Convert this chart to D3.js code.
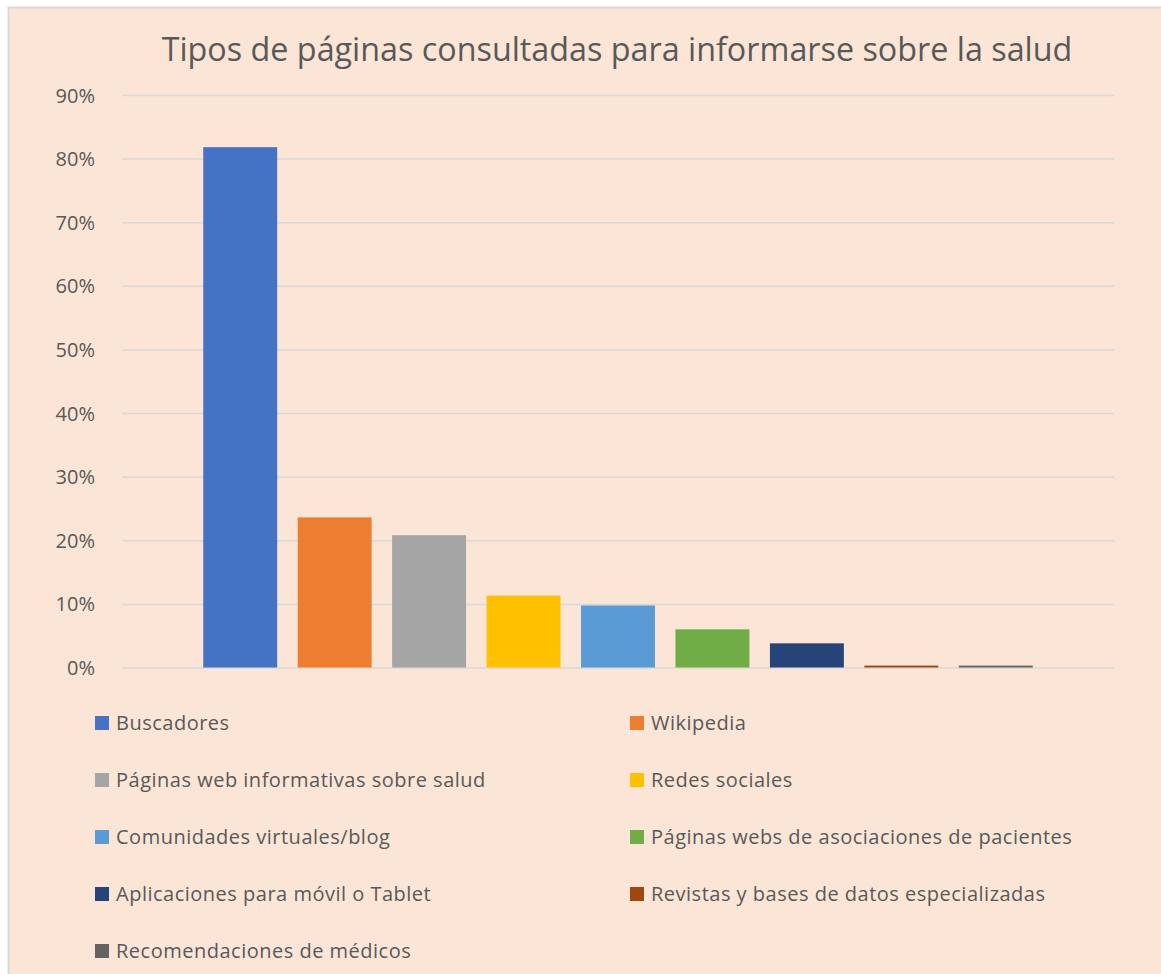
<!DOCTYPE html>
<meta charset="utf-8">
<style>
body { margin: 0; background: #fff; }
svg { display: block; font-family: "Open Sans", sans-serif; }
.grid line { stroke: #d9d9d9; stroke-width: 1.5; }
.grid path { display: none; }
.axis--y path, .axis--y line { display: none; }
.axis--y text { fill: #595959; font-size: 20px; font-family: "Open Sans", sans-serif; }
.legend text { fill: #595959; font-size: 20px; letter-spacing: 0.5px; }
</style>
<svg width="1161" height="974"></svg>
<script src="https://d3js.org/d3.v7.min.js"></script>
<script>
var categories = ["Buscadores", "Wikipedia", "Páginas web informativas sobre salud", "Redes sociales",
  "Comunidades virtuales/blog", "Páginas webs de asociaciones de pacientes",
  "Aplicaciones para móvil o Tablet", "Revistas y bases de datos especializadas",
  "Recomendaciones de médicos"];
var values = [0.818, 0.236, 0.208, 0.113, 0.0975, 0.06, 0.038, 0.003, 0.003];
var colors = ["#4472c4", "#ed7d31", "#a5a5a5", "#ffc000", "#5b9bd5", "#70ad47", "#264478", "#9e480e", "#636363"];
var yTicks = [0, 0.1, 0.2, 0.3, 0.4, 0.5, 0.6, 0.7, 0.8, 0.9];
var title = "Tipos de páginas consultadas para informarse sobre la salud";

var svg = d3.select("svg");
var plot = {left: 122, right: 1114, top: 95, bottom: 667.5};

// chart area background with light border
svg.append("rect")
    .attr("x", 8.5).attr("y", 7.5)
    .attr("width", 1170).attr("height", 980)
    .attr("fill", "#fbe5d7")
    .attr("stroke", "#d9d9d9")
    .attr("stroke-width", 2);

svg.append("text")
    .attr("x", 617).attr("y", 61)
    .attr("text-anchor", "middle")
    .attr("fill", "#595959")
    .style("font-size", "32.3px")
    .text(title);

var y = d3.scaleLinear().domain([0, 0.9]).range([plot.bottom, plot.top]);
// single category cluster of 9 series, leaving a gap on each side
var x = d3.scaleBand().domain(categories)
    .range([plot.left + 71, plot.right - 71])
    .paddingInner(0.217).paddingOuter(0.1085);

svg.append("g")
    .attr("class", "grid")
    .attr("transform", "translate(" + plot.left + ",0)")
    .call(d3.axisRight(y).tickValues(yTicks).tickSize(plot.right - plot.left).tickFormat(""));

svg.append("g")
    .attr("class", "axis axis--y")
    .attr("transform", "translate(" + (plot.left - 24) + ",0)")
    .call(d3.axisLeft(y).tickValues(yTicks).tickSize(0).tickFormat(d3.format(".0%")))
  .selectAll("text")
    .attr("dy", "0.35em");

svg.selectAll(".bar")
  .data(values)
  .enter().append("rect")
    .attr("class", "bar")
    .attr("x", function(d, i) { return x(categories[i]); })
    .attr("y", function(d) { return y(d); })
    .attr("width", x.bandwidth())
    .attr("height", function(d) { return plot.bottom - y(d); })
    .attr("fill", function(d, i) { return colors[i]; });

var legend = svg.append("g").attr("class", "legend")
  .selectAll("g")
  .data(categories)
  .enter().append("g")
    .attr("transform", function(d, i) {
      return "translate(" + (i % 2 ? 630 : 95) + "," + (723 + Math.floor(i / 2) * 57) + ")";
    });
legend.append("rect")
    .attr("y", -7).attr("width", 14).attr("height", 14)
    .attr("fill", function(d, i) { return colors[i]; });
legend.append("text")
    .attr("x", 21).attr("dy", "0.35em")
    .text(function(d) { return d; });
</script>
